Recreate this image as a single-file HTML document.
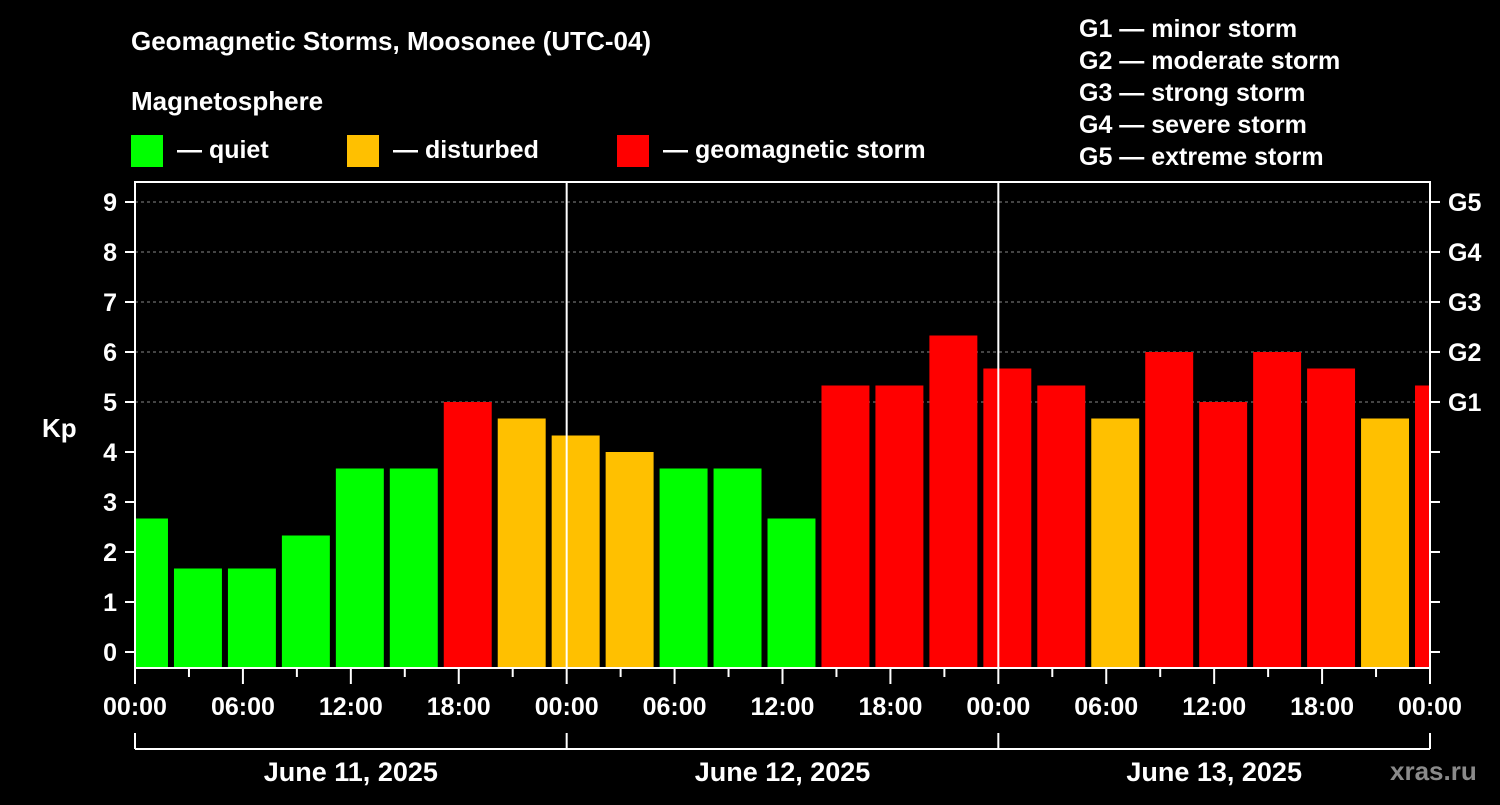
<!DOCTYPE html>
<html><head><meta charset="utf-8"><style>
body{margin:0;background:#000;}
svg text{font-family:"Liberation Sans",Arial,sans-serif;font-weight:bold;fill:#fff;}
</style></head><body>
<svg id="chart" width="1500" height="800" xmlns="http://www.w3.org/2000/svg">
<rect width="1500" height="800" fill="#000"/>
<text x="131" y="50" font-size="26">Geomagnetic Storms, Moosonee (UTC-04)</text>
<text x="131" y="110" font-size="26">Magnetosphere</text>
<g>
<rect x="131" y="135" width="32" height="32" fill="#00ff00"/>
<text x="177" y="158" font-size="25">— quiet</text>
<rect x="347" y="135" width="32" height="32" fill="#ffc000"/>
<text x="393" y="158" font-size="25">— disturbed</text>
<rect x="617" y="135" width="32" height="32" fill="#ff0000"/>
<text x="663" y="158" font-size="25">— geomagnetic storm</text>
</g>
<g font-size="25">
<text x="1079" y="37">G1 — minor storm</text>
<text x="1079" y="69">G2 — moderate storm</text>
<text x="1079" y="101">G3 — strong storm</text>
<text x="1079" y="133">G4 — severe storm</text>
<text x="1079" y="165">G5 — extreme storm</text>
</g>
<text x="42" y="437" font-size="26">Kp</text>
<text x="1390" y="780" font-size="26" fill="#888" style="fill:#8a8a8a">xras.ru</text>
<g id="plot"></g>
</svg>
<script>
const kpValues=[2.67,1.67,1.67,2.33,3.67,3.67,5,4.67,4.33,4,3.67,3.67,2.67,5.33,5.33,6.33,5.67,5.33,4.67,6,5,6,5.67,4.67,5.33];
const kpTicks=[0,1,2,3,4,5,6,7,8,9];
const gLabels=["G1","G2","G3","G4","G5"];
const hourLabels=["00:00","06:00","12:00","18:00"];
const dayLabels=["June 11, 2025","June 12, 2025","June 13, 2025"];
const firstBarHour=-1;
const NS="http://www.w3.org/2000/svg";
const L=135,R=1430,T=182,B=668;
const x=h=>L+h*(R-L)/72;
const y=k=>652-50*k;
const g=document.getElementById('plot');
function mk(t,a,txt){const e=document.createElementNS(NS,t);for(const k in a)e.setAttribute(k,a[k]);if(txt!==undefined)e.textContent=txt;g.appendChild(e);return e;}
// grid
for(let k=5;k<=9;k++){const e=mk('line',{x1:L,x2:R,y1:y(k),y2:y(k),stroke:'#888','stroke-dasharray':'3,3','stroke-width':1});

}
// bars
kpValues.forEach((v,i)=>{
const h0=firstBarHour+3*i;let x0=x(h0)+3,x1=x(h0+3)-3;x0=Math.max(x0,L+1);x1=Math.min(x1,R-1);
const c=v<4?'#00ff00':(v<5?'#ffc000':'#ff0000');
const e=mk('rect',{x:x0,y:y(v),width:x1-x0,height:B-y(v),fill:c});

});
// day separators
[24,48].forEach(h=>{const e=mk('line',{x1:x(h),x2:x(h),y1:T,y2:B,stroke:'#fff','stroke-width':2});

});
// frame
const fr=mk('rect',{x:L,y:T,width:R-L,height:B-T,fill:'none',stroke:'#fff','stroke-width':2});


// y ticks
kpTicks.forEach(k=>{
mk('line',{x1:L-10,x2:L,y1:y(k),y2:y(k),stroke:'#fff','stroke-width':2});
mk('line',{x1:R,x2:R+10,y1:y(k),y2:y(k),stroke:'#fff','stroke-width':2});
const t=mk('text',{x:L-18,y:y(k)+9,'font-size':25,'text-anchor':'end'},String(k));

});
gLabels.forEach((s,i)=>{const t=mk('text',{x:R+18,y:y(5+i)+9,'font-size':25},s);

});
// x ticks
for(let h=0;h<=72;h+=3){const len=h%6===0?16:9;mk('line',{x1:x(h),x2:x(h),y1:B,y2:B+len,stroke:'#fff','stroke-width':2});}
for(let h=0;h<=72;h+=6){const t=mk('text',{x:x(h),y:715,'font-size':25,'text-anchor':'middle'},hourLabels[(h/6)%4]);

}
// day bracket
mk('line',{x1:L,x2:R,y1:749,y2:749,stroke:'#fff','stroke-width':2});
[0,24,48,72].forEach(h=>mk('line',{x1:x(h),x2:x(h),y1:733,y2:749,stroke:'#fff','stroke-width':2}));
dayLabels.forEach((d,i)=>{const t=mk('text',{x:x(24*i+12),y:781,'font-size':27,'text-anchor':'middle'},d);

});
</script>
</body></html>
